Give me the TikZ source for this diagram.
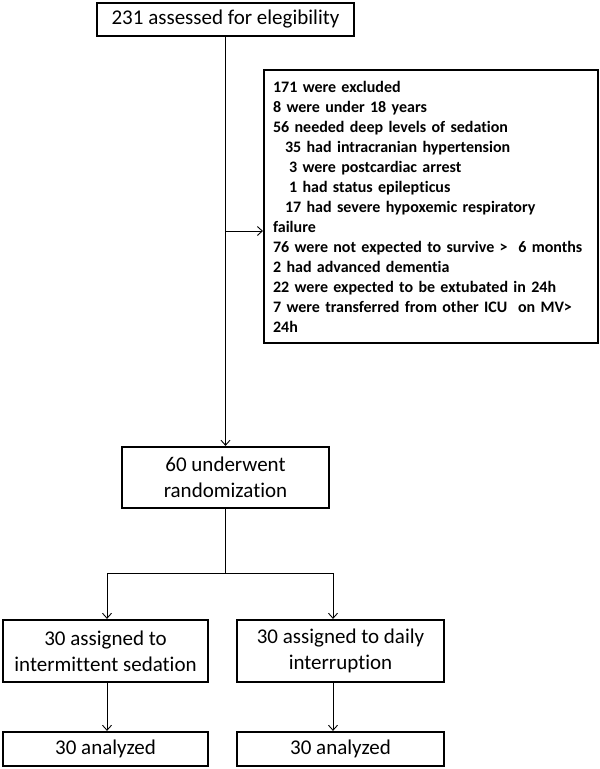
\documentclass[tikz,border=0pt]{standalone}
\usepackage{fontspec}
\setmainfont{Carlito}[Ligatures=NoCommon]
\usetikzlibrary{arrows.meta}
% keeps t and i (or t and t) from being joined by the font
\newcommand\nolig{\kern0pt}

\begin{document}
\begin{tikzpicture}[x=1pt,y=-1pt,>={Straight Barb[length=5pt,width=9pt]},
    box/.style={draw,line width=2.2pt,align=center,inner sep=0pt,font=\fontsize{21}{26}\selectfont},
    link/.style={line width=0.9pt}]
    \useasboundingbox[fill=white] (0,0) rectangle (600,769);

    \node[box,minimum width=257pt,minimum height=33pt] (assess) at (225.5,19.5) {231 assessed for elegibility};
    \node[box,anchor=north west,align=left,text width=316pt,inner xsep=9pt,minimum height=273pt,
          font=\fontsize{16}{20}\selectfont\bfseries] (excl) at (263,69) {171 were excluded\\
      8 were under 18 years\\
      56 needed deep levels of sedat\nolig ion\\
      \hspace*{12pt}35 had intracranian hypertension\\
      \hspace*{16pt}3 were postcardiac arrest\\
      \hspace*{16pt}1 had status epilept\nolig icus\\
      \hspace*{12pt}17 had severe hypoxemic respiratory\\
      failure\\
      76 were not expected to survive >\ \ 6 months\\
      2 had advanced dement\nolig ia\\
      22 were expected to be extubated in 24h\\
      7 were transferred from other ICU\ \ on MV>\\
      24h};
    \node[box,minimum width=207pt,minimum height=61pt] (rand) at (225.5,477.5) {60 underwent\\randomizat\nolig ion};
    \node[box,minimum width=205pt,minimum height=62pt] (intl) at (105.5,651) {30 assigned to\\intermit\nolig tent sedat\nolig ion};
    \node[box,minimum width=207pt,minimum height=62pt] (intr) at (340.5,651) {30 assigned to daily\\interrupt\nolig ion};
    \node[box,minimum width=205pt,minimum height=34pt] (anl) at (105.5,749) {30 analyzed};
    \node[box,minimum width=207pt,minimum height=34pt] (anr) at (340.5,749) {30 analyzed};

    % flow down to randomization, with the exclusions branching off
    \coordinate (split) at (225.5,231);
    \draw[link,->] (assess) -- (rand);
    \draw[link,->] (split) -- (split -| excl.west);

    % the two arms
    \coordinate (fork) at (225.5,573);
    \coordinate (forkl) at (107,573);
    \coordinate (forkr) at (333,573);
    \draw[link] (rand) -- (fork);
    \draw[link] (forkl) -- (forkr);
    \draw[link,->] (forkl) -- (forkl |- intl.north);
    \draw[link,->] (forkr) -- (forkr |- intr.north);
    \draw[link,->] (forkl |- intl.south) -- (forkl |- anl.north);
    \draw[link,->] (forkr |- intr.south) -- (forkr |- anr.north);
\end{tikzpicture}
\end{document}
